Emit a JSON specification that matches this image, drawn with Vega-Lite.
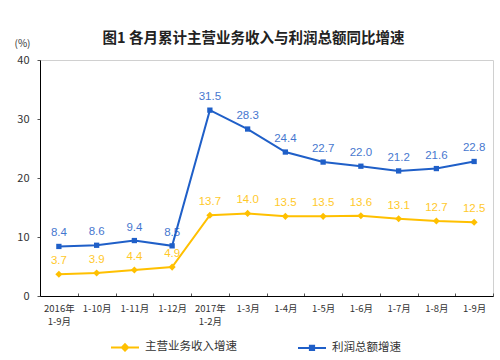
{
  "$schema": "https://vega.github.io/schema/vega-lite/v6.json",
  "width": 453,
  "height": 236,
  "autosize": {"type": "none"},
  "padding": {"left": 40, "top": 60, "right": 7, "bottom": 64},
  "background": "white",
  "title": {
    "text": "图1  各月累计主营业务收入与利润总额同比增速",
    "font": "Noto Sans CJK SC",
    "fontSize": 14.5,
    "fontWeight": "bold",
    "color": "#222222",
    "anchor": "middle",
    "offset": 16,
    "dy": 24,
    "dx": -13
  },
  "config": {
    "font": "Noto Sans CJK SC",
    "view": {"stroke": "#D0D0D0", "strokeWidth": 1}
  },
  "data": {
    "values": [
      {"m": "2016年\n1-9月", "i": 0, "s": "主营业务收入增速", "v": 3.7},
      {"m": "1-10月", "i": 1, "s": "主营业务收入增速", "v": 3.9},
      {"m": "1-11月", "i": 2, "s": "主营业务收入增速", "v": 4.4},
      {"m": "1-12月", "i": 3, "s": "主营业务收入增速", "v": 4.9},
      {"m": "2017年\n1-2月", "i": 4, "s": "主营业务收入增速", "v": 13.7},
      {"m": "1-3月", "i": 5, "s": "主营业务收入增速", "v": 14.0},
      {"m": "1-4月", "i": 6, "s": "主营业务收入增速", "v": 13.5},
      {"m": "1-5月", "i": 7, "s": "主营业务收入增速", "v": 13.5},
      {"m": "1-6月", "i": 8, "s": "主营业务收入增速", "v": 13.6},
      {"m": "1-7月", "i": 9, "s": "主营业务收入增速", "v": 13.1},
      {"m": "1-8月", "i": 10, "s": "主营业务收入增速", "v": 12.7},
      {"m": "1-9月", "i": 11, "s": "主营业务收入增速", "v": 12.5},
      {"m": "2016年\n1-9月", "i": 0, "s": "利润总额增速", "v": 8.4},
      {"m": "1-10月", "i": 1, "s": "利润总额增速", "v": 8.6},
      {"m": "1-11月", "i": 2, "s": "利润总额增速", "v": 9.4},
      {"m": "1-12月", "i": 3, "s": "利润总额增速", "v": 8.5},
      {"m": "2017年\n1-2月", "i": 4, "s": "利润总额增速", "v": 31.5},
      {"m": "1-3月", "i": 5, "s": "利润总额增速", "v": 28.3},
      {"m": "1-4月", "i": 6, "s": "利润总额增速", "v": 24.4},
      {"m": "1-5月", "i": 7, "s": "利润总额增速", "v": 22.7},
      {"m": "1-6月", "i": 8, "s": "利润总额增速", "v": 22.0},
      {"m": "1-7月", "i": 9, "s": "利润总额增速", "v": 21.2},
      {"m": "1-8月", "i": 10, "s": "利润总额增速", "v": 21.6},
      {"m": "1-9月", "i": 11, "s": "利润总额增速", "v": 22.8}
    ]
  },
  "encoding": {
    "x": {
      "field": "m",
      "type": "ordinal",
      "sort": {"field": "i"},
      "scale": {"paddingInner": 0, "paddingOuter": 0.0},
      "axis": {
        "title": null,
        "labelAngle": 0,
        "labelExpr": "split(datum.label, '\\n')",
        "labelFontSize": 9.5,
        "labelColor": "#333333",
        "labelLineHeight": 13,
        "labelPadding": 10,
        "domainColor": "#000000",
        "tickColor": "#555555",
        "tickBand": "extent",
        "tickSize": -3,
        "labelBaseline": "top"
      }
    },
    "y": {
      "field": "v",
      "type": "quantitative",
      "scale": {"domain": [0, 40]},
      "axis": {
        "title": "(%)",
        "titleAngle": 0,
        "titleX": -18,
        "titleY": -12,
        "titleFontSize": 10,
        "titleFontWeight": "normal",
        "titleColor": "#333333",
        "values": [0, 10, 20, 30, 40],
        "grid": false,
        "labelFontSize": 11,
        "labelColor": "#333333",
        "labelPadding": 8,
        "domainColor": "#000000",
        "tickColor": "#555555",
        "tickSize": 3
      }
    },
    "color": {
      "field": "s",
      "type": "nominal",
      "sort": ["主营业务收入增速", "利润总额增速"],
      "scale": {"domain": ["主营业务收入增速", "利润总额增速"], "range": ["#FFC000", "#1F5FC8"]},
      "legend": {
        "title": null,
        "orient": "none",
        "legendX": 77,
        "legendY": 279,
        "direction": "horizontal",
        "columns": 2,
        "columnPadding": 57,
        "labelFontSize": 11.5,
        "labelColor": "#333333",
        "labelOffset": 12,
        "symbolSize": 196,
        "symbolStrokeWidth": 2,
        "encode": {
          "symbols": {
            "update": {
              "shape": {"signal": "datum.value === '利润总额增速' ? 'M-2,0H2M-0.3,-0.3H0.3V0.3H-0.3Z' : 'M-2,0H2M0,-0.45L0.45,0L0,0.45L-0.45,0Z'"},
              "stroke": {"signal": "datum.value === '利润总额增速' ? '#1F5FC8' : '#FFC000'"},
              "fill": {"signal": "datum.value === '利润总额增速' ? '#1F5FC8' : '#FFC000'"},
              "strokeWidth": {"value": 2},
              "opacity": {"value": 1}
            }
          }
        }
      }
    }
  },
  "layer": [
    {"mark": {"type": "line", "strokeWidth": 2}},
    {
      "transform": [{"filter": "datum.s === '主营业务收入增速'"}],
      "mark": {"type": "point", "filled": true, "opacity": 1, "shape": "diamond", "size": 50}
    },
    {
      "transform": [{"filter": "datum.s === '利润总额增速'"}],
      "mark": {"type": "point", "filled": true, "opacity": 1, "shape": "square", "size": 28}
    },
    {
      "mark": {"type": "text", "dy": -13, "fontSize": 11.5, "font": "Liberation Sans"},
      "encoding": {
        "text": {"field": "v", "type": "quantitative", "format": ".1f"},
        "opacity": {"value": 0.85}
      }
    }
  ]
}
